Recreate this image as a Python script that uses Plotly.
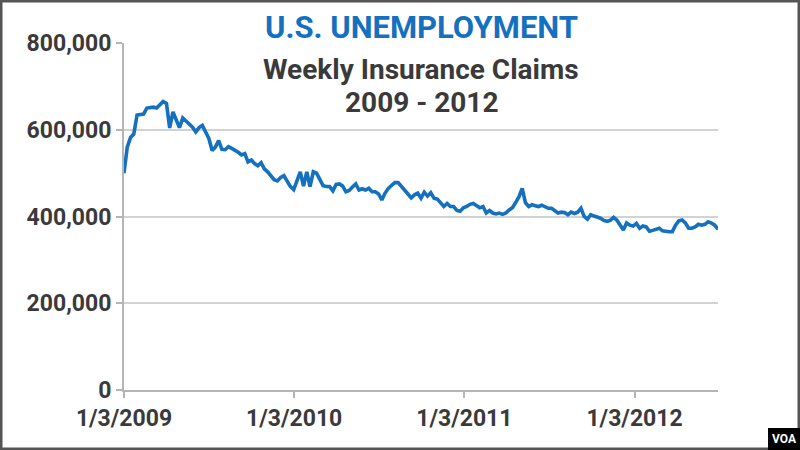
import plotly.graph_objects as go
import pandas as pd

# Weekly initial unemployment insurance claims (thousands), weeks ending 2009-01-03 .. 2012-06-30
start_date = "2009-01-03"
claims_k = [
    500, 560, 582, 590, 634, 634, 636, 650, 652, 652,
    650, 658, 665, 661, 604, 641, 625, 605, 627, 620,
    613, 606, 595, 605, 610, 597, 580, 552, 560, 575,
    555, 554, 561, 557, 553, 548, 542, 545, 526, 530,
    522, 517, 524, 510, 503, 495, 485, 482, 490, 494,
    480, 469, 462, 480, 503, 470, 503, 469, 503, 500,
    485, 471, 469, 469, 459, 474, 475, 470, 457, 460,
    468, 475, 461, 464, 461, 465, 457, 457, 452, 438,
    454, 465, 472, 478, 478, 470, 461, 452, 443, 450,
    454, 442, 456, 447, 455, 442, 440, 430, 423, 430,
    423, 423, 414, 412, 420, 423, 428, 430, 425, 420,
    423, 408, 414, 408, 406, 408, 405, 408, 415, 420,
    432, 445, 465, 432, 423, 427, 425, 423, 426, 422,
    419, 419, 414, 408, 410, 409, 404, 410, 407, 410,
    419, 400, 394, 404, 401, 399, 396, 391, 389, 391,
    398, 392, 380, 369, 385, 380, 378, 384, 373, 378,
    376, 366, 368, 370, 373, 367, 365, 365, 365, 380,
    390, 392, 385, 373, 373, 376, 382, 380, 382, 388,
    385, 380, 370,
]
weeks = pd.date_range(start_date, periods=len(claims_k), freq="7D")
claims = [v * 1000 for v in claims_k]

x_tick_dates = ["2009-01-03", "2010-01-03", "2011-01-03", "2012-01-03"]
x_tick_labels = ["1/3/2009", "1/3/2010", "1/3/2011", "1/3/2012"]
y_tick_vals = [0, 200000, 400000, 600000, 800000]
y_tick_labels = ["0", "200,000", "400,000", "600,000", "800,000"]

title_main = "U.S. UNEMPLOYMENT"
title_sub = "Weekly Insurance Claims"
title_years = "2009 - 2012"

FONT = "Roboto, 'Open Sans', sans-serif"
BLUE = "#1670c0"
GRAY_TXT = "#3a3a3a"

fig = go.Figure()
fig.add_trace(go.Scatter(
    x=weeks, y=claims, mode="lines",
    line=dict(color=BLUE, width=3.6),
    hoverinfo="skip", showlegend=False,
))

L, R, T, B = 124, 82, 43, 60
W, H = 800, 450
pw, ph = W - L - R, H - T - B

def px_x(p):
    return (p - L) / pw

def px_y(p):
    return (H - B - p) / ph

fig.update_layout(
    width=W, height=H,
    margin=dict(l=L, r=R, t=T, b=B),
    paper_bgcolor="white", plot_bgcolor="white",
    font=dict(family=FONT, color=GRAY_TXT),
    xaxis=dict(
        range=[weeks[0], weeks[-1]],
        tickvals=x_tick_dates, ticktext=x_tick_labels,
        showgrid=False, showline=True, linecolor="#b5b5b5", linewidth=2,
        ticks="outside", ticklen=6, tickcolor="#b5b5b5", tickwidth=2,
        tickfont=dict(family=FONT, size=23, color=GRAY_TXT, weight="bold"),
        zeroline=False,
    ),
    yaxis=dict(
        range=[0, 800000],
        tickvals=y_tick_vals, ticktext=y_tick_labels,
        showgrid=True, gridcolor="#d2d2d2", gridwidth=2,
        showline=True, linecolor="#b5b5b5", linewidth=2,
        ticks="outside", ticklen=6, tickcolor="#b5b5b5", tickwidth=2,
        tickfont=dict(family=FONT, size=23, color=GRAY_TXT, weight="bold"),
        zeroline=False,
    ),
    annotations=[
        dict(text=title_main, xref="paper", yref="paper", x=0.5, y=px_y(28),
             showarrow=False, xanchor="center", yanchor="middle",
             font=dict(family=FONT, size=31, color=BLUE, weight="bold")),
        dict(text=title_sub, xref="paper", yref="paper", x=0.5, y=px_y(69),
             showarrow=False, xanchor="center", yanchor="middle",
             font=dict(family=FONT, size=28, color=GRAY_TXT, weight="bold")),
        dict(text=title_years, xref="paper", yref="paper", x=0.5, y=px_y(102),
             showarrow=False, xanchor="center", yanchor="middle",
             font=dict(family=FONT, size=28, color=GRAY_TXT, weight="bold")),
        dict(text="VOA", xref="paper", yref="paper", x=px_x(784), y=px_y(439),
             showarrow=False, xanchor="center", yanchor="middle",
             font=dict(family=FONT, size=12, color="white", weight="bold")),
    ],
    shapes=[
        dict(type="rect", xref="paper", yref="paper",
             x0=px_x(1), x1=px_x(799), y0=px_y(449), y1=px_y(1),
             line=dict(color="#555555", width=3), fillcolor="rgba(0,0,0,0)", layer="above"),
        dict(type="rect", xref="paper", yref="paper",
             x0=px_x(768), x1=px_x(800), y0=px_y(450), y1=px_y(428),
             line=dict(width=0), fillcolor="black", layer="above"),
    ],
)

fig.write_html("out.html", config={"displayModeBar": False},
               post_script="document.body.style.margin='0';")
